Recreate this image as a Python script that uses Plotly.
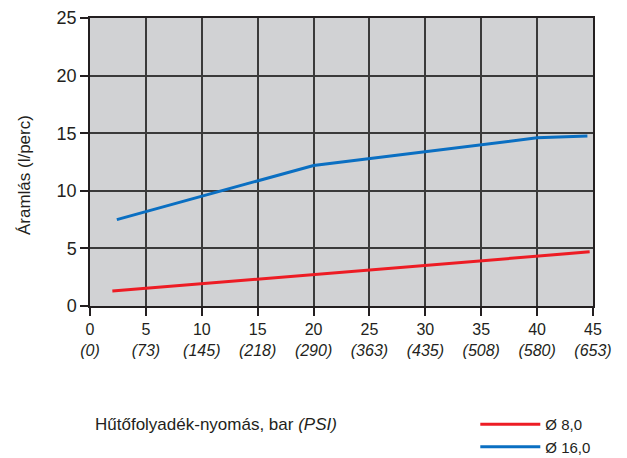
import plotly.graph_objects as go

# Data
x_ticks = [0, 5, 10, 15, 20, 25, 30, 35, 40, 45]
psi_labels = ["0", "73", "145", "218", "290", "363", "435", "508", "580", "653"]
y_ticks = [0, 5, 10, 15, 20, 25]

red_x = [2.0, 44.7]
red_y = [1.3, 4.7]

blue_x = [2.4, 20, 40, 44.5]
blue_y = [7.5, 12.2, 14.6, 14.75]

tick_text = [f"{b}<br><i>({p})</i>" for b, p in zip(x_ticks, psi_labels)]

FONT = "Liberation Sans, Arial, sans-serif"

fig = go.Figure()
fig.add_trace(go.Scatter(x=red_x, y=red_y, mode="lines", name="Ø 8,0",
                         line=dict(color="#ed1c24", width=3)))
fig.add_trace(go.Scatter(x=blue_x, y=blue_y, mode="lines", name="Ø 16,0",
                         line=dict(color="#0a6fc2", width=3)))

# page body has an 8px margin, so the figure is sized/offset to compensate
fig.update_layout(
    width=619, height=450,
    margin=dict(l=82, r=34, t=10, b=152, autoexpand=False),
    paper_bgcolor="white",
    plot_bgcolor="#d1d2d4",
    font=dict(family=FONT, color="#231f20"),
    showlegend=True,
    legend=dict(x=0.766, y=-0.354, xanchor="left", yanchor="top",
                bgcolor="rgba(0,0,0,0)", font=dict(size=15, family=FONT),
                tracegroupgap=0, itemwidth=60),
    xaxis=dict(range=[0, 45], tickvals=x_ticks, ticktext=tick_text,
               showgrid=True, gridcolor="#3a3a3a", gridwidth=1.5,
               showline=True, linecolor="#231f20", linewidth=1.5, mirror=True,
               ticks="outside", ticklen=8, tickwidth=1.5, tickcolor="#231f20",
               tickfont=dict(size=16, family=FONT), zeroline=False, fixedrange=True,
               automargin=False),
    yaxis=dict(range=[0, 25], tickvals=y_ticks,
               showgrid=True, gridcolor="#3a3a3a", gridwidth=1.5,
               showline=True, linecolor="#231f20", linewidth=1.5, mirror=True,
               ticks="outside", ticklen=8, tickwidth=1.5, tickcolor="#231f20",
               tickfont=dict(size=18, family=FONT), zeroline=False, fixedrange=True,
               automargin=False),
    annotations=[
        dict(text="Áramlás (l/perc)", xref="paper", yref="paper",
             x=-0.129, y=0.455, textangle=-90, showarrow=False,
             xanchor="center", yanchor="middle", font=dict(size=17, family=FONT)),
        dict(text="Hűtőfolyadék-nyomás, bar <i>(PSI)</i>", xref="paper", yref="paper",
             x=0.006, y=-0.413, showarrow=False, xanchor="left", yanchor="middle",
             font=dict(size=17, family=FONT)),
    ],
)

fig.write_html("out.html")
